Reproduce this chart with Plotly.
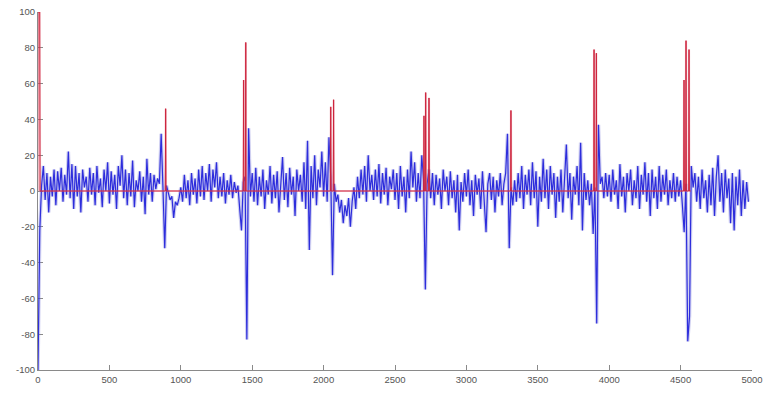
import plotly.graph_objects as go

# ---------------- data ----------------
step = 12.5  # sample spacing of the blue signal (x units)

blue_0 = [-100, -22, 3, 14, -5, 10, -12, 8, -3, 12, -8, 11, 0, 13, -6, 9, -2, 22, -4, 15,
          -10, 14, -3, 10, -12, 12, 2, 8, -6, 13, -2, 10, -8, 14, -1, 7, -9, 12, 0, 16]
blue_500 = [-7, 11, -2, 9, -10, 14, 3, 20, -4, 12, -8, 10, -3, 17, -9, 6, 0, 11, -6, 8,
            -13, 18, -2, 10, -6, 9, 1, 7, 4, 32, 2, -32, 3, -2, -5, -3, -15, -6, -8, -4]
blue_1000 = [2, -6, 9, -4, 6, -8, 10, -2, 7, -7, 12, -3, 14, -5, 10, 0, 15, -6, 12, 2,
             16, -4, 8, -3, 10, -7, 6, -2, 9, -4, 5, -1, 3, -10, -22, 5, 8, -83, 35, -3]
blue_1500 = [10, -6, 13, -8, 8, -3, 12, -10, 6, -2, 14, -7, 9, -4, 11, -12, 7, 19, -5, 10,
             -9, 13, -2, 8, -14, 12, 0, 9, -6, 16, -10, 28, -33, 14, -4, 20, -8, 12, 2, 22]
blue_2000 = [-3, 16, -6, 30, 8, -47, 4, -6, -2, -12, -5, -18, -8, -14, -4, -20, -6, 2, -10, 8,
             -4, 12, -2, 14, -6, 20, 0, 9, -5, 12, -3, 15, -7, 10, -2, 13, -8, 8, 1, 12]
blue_2500 = [-5, 10, -10, 14, -3, 8, -12, 12, -4, 22, 2, 16, -6, 10, -4, 20, 6, -55, 4, 12,
             -4, 10, -8, 9, -2, 7, -10, 12, 0, 8, -8, 11, -4, 6, -12, 9, -22, 5, -6, 10]
blue_3000 = [-3, 12, -8, 6, -14, 9, -2, 7, -10, 11, -6, -23, 4, 10, -5, 8, -12, 6, -3, 10,
             -8, 4, 10, 32, -32, 2, -8, 6, -6, 10, -4, 14, -10, 9, -2, 12, -8, 16, -4, 11]
blue_3500 = [-20, 8, -6, 18, -4, 12, -10, 14, -2, 10, -15, 8, -6, 12, -12, 6, 26, -4, 10, -16,
             8, -2, 14, -8, 27, -22, 10, -5, 6, -8, 4, -24, 2, -74, 37, 4, 8, -4, 10, -3]
blue_4000 = [9, -6, 12, -2, 6, -10, 15, -3, 8, -12, 10, 0, 12, -8, 6, -4, 14, -10, 9, -2,
             16, -6, 10, -14, 12, -4, 8, -10, 14, -6, 9, -2, 12, -8, 6, -4, 10, -6, 8, -3]
blue_4500 = [6, -8, -23, 4, -84, -70, 14, 2, 10, -6, 8, -10, 12, -4, 6, -12, 9, -8, 13, -14,
             8, 20, -6, 10, -12, 12, -4, 7, -18, 10, -22, 8, -8, 12, -14, 6, -10, 5, -6]

# red event signal: zero baseline with spikes
red_spike_x = [0, 4, 8, 12, 894, 1440, 1455, 2050, 2070, 2703, 2715, 2738, 3312,
               3894, 3910, 4524, 4538, 4559]
red_spike_y = [100, 100, 100, 100, 46, 62, 83, 47, 51, 42, 55, 52, 45,
               79, 77, 62, 84, 79]
red_end = 4570

x_ticks = [0, 500, 1000, 1500, 2000, 2500, 3000, 3500, 4000, 4500, 5000]
y_ticks = [-100, -80, -60, -40, -20, 0, 20, 40, 60, 80, 100]

# ---------------- build series ----------------
blue_y = (blue_0 + blue_500 + blue_1000 + blue_1500 + blue_2000 + blue_2500 +
          blue_3000 + blue_3500 + blue_4000 + blue_4500)
blue_x = [i * step for i in range(len(blue_y))]

half = 2.5
rx, ry = [0], [0]
for i, (sx, sy) in enumerate(zip(red_spike_x, red_spike_y)):
    prev_close = i > 0 and sx - red_spike_x[i - 1] <= 2 * half
    if not prev_close:
        rx.append(sx - half); ry.append(0)
    rx.append(sx); ry.append(sy)
    nxt_close = i < len(red_spike_x) - 1 and red_spike_x[i + 1] - sx <= 2 * half
    if not nxt_close:
        rx.append(sx + half); ry.append(0)
rx.append(red_end); ry.append(0)

fig = go.Figure()
# soft halo under the blue signal (blurred look of the original)
fig.add_trace(go.Scatter(x=blue_x, y=blue_y, mode="lines",
                         line=dict(color="rgba(120,120,215,0.35)", width=3.5),
                         hoverinfo="skip", showlegend=False))
fig.add_trace(go.Scatter(x=blue_x, y=blue_y, mode="lines",
                         line=dict(color="rgb(45,45,220)", width=1.2),
                         hoverinfo="skip", showlegend=False))
fig.add_trace(go.Scatter(x=rx, y=ry, mode="lines",
                         line=dict(color="rgba(230,110,130,0.3)", width=2.2),
                         hoverinfo="skip", showlegend=False))
fig.add_trace(go.Scatter(x=rx, y=ry, mode="lines",
                         line=dict(color="rgb(205,35,60)", width=1.0),
                         hoverinfo="skip", showlegend=False))

axis_common = dict(showgrid=False, zeroline=False, showline=True,
                   linecolor="#8a8a8a", linewidth=1.2,
                   ticks="inside", ticklen=5, tickcolor="#8a8a8a", tickwidth=1.2,
                   tickfont=dict(family="Liberation Sans, Arial, sans-serif",
                                 size=9.5, color="#555555"),
                   layer="below traces", automargin=False)

fig.update_xaxes(range=[0, 5000], tickvals=x_ticks, ticktext=[str(v) for v in x_ticks],
                 **axis_common)
fig.update_yaxes(range=[-100, 100], tickvals=y_ticks, ticktext=[str(v) for v in y_ticks],
                 **axis_common)

fig.update_layout(width=767, height=397,
                  margin=dict(l=38, r=15, t=12, b=27),
                  paper_bgcolor="white", plot_bgcolor="white")

fig.write_html("out.html", config={"displayModeBar": False},
               post_script="document.body.style.margin='0';")
